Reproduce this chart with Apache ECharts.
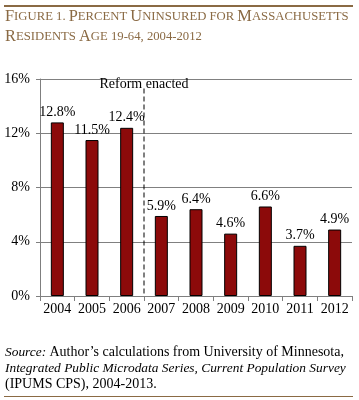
<!DOCTYPE html>
<html><head><meta charset="utf-8">
<script src="https://cdn.jsdelivr.net/npm/echarts@6/dist/echarts.min.js"></script>
<style>html,body{margin:0;padding:0;background:#fff}#c{width:359px;height:400px}</style>
</head><body><div id="c"></div>
<script>
var categories = ['2004','2005','2006','2007','2008','2009','2010','2011','2012'];
var uninsured = [12.8, 11.5, 12.4, 5.9, 6.4, 4.6, 6.6, 3.7, 4.9];
var yTicks = [0, 4, 8, 12, 16];
var reformPosition = 3; // boundary before 2007 (category index)
var reformLine = [[reformPosition, 15.3], [reformPosition, 0]];
var titleLines = ['Figure 1. Percent Uninsured for Massachusetts', 'Residents Age 19-64, 2004-2012'];

function smallCaps(s) {
  var out = '', cur = null, buf = '';
  for (var i = 0; i < s.length; i++) {
    var ch = s[i];
    var t = (ch >= 'A' && ch <= 'Z') ? 'b' : 's';
    if (t !== cur) { if (buf) out += '{' + cur + '|' + buf + '}'; buf = ''; cur = t; }
    buf += ch.toUpperCase();
  }
  if (buf) out += '{' + cur + '|' + buf + '}';
  return out;
}
var serif = '"Liberation Serif", "DejaVu Serif", serif';
var titleColor = '#8a6a44';
var titleRich = { b: { fontSize: 16.4, fill: titleColor, fontFamily: serif }, s: { fontSize: 12.7, fill: titleColor, fontFamily: serif } };
var chart = echarts.init(document.getElementById('c'));
chart.setOption({
  animation: false,
  backgroundColor: '#fff',
  grid: { left: 40, right: 7, top: 79, bottom: 104, containLabel: false },
  xAxis: [{
    type: 'category', data: categories,
    axisLine: { lineStyle: { color: '#7f7f7f' } },
    axisTick: { show: true, length: 5, inside: false, interval: 0, lineStyle: { color: '#7f7f7f' } },
    axisLabel: { color: '#000', fontFamily: serif, fontSize: 14, margin: 6, interval: 0, hideOverlap: false }
  }, {
    type: 'value', min: 0, max: 9, show: false
  }],
  yAxis: {
    type: 'value', min: 0, max: 16, interval: 4,
    axisLine: { show: true, lineStyle: { color: '#7f7f7f' } },
    axisTick: { show: true, length: 4, lineStyle: { color: '#7f7f7f' } },
    axisLabel: { color: '#000', fontFamily: serif, fontSize: 14, margin: 10,
      formatter: function (v) { return yTicks.indexOf(v) >= 0 ? v + '%' : ''; } },
    splitLine: { lineStyle: { color: '#808080', width: 1 } }
  },
  series: [{
    type: 'bar', data: uninsured, barWidth: 13, xAxisIndex: 0,
    itemStyle: { color: '#8c0a0a', borderColor: '#000', borderWidth: 1 },
    label: { show: true, position: 'top', distance: 3, color: '#000', fontFamily: serif, fontSize: 14,
      formatter: function (p) { return p.value.toFixed(1) + '%'; } }
  }, {
    type: 'line', xAxisIndex: 1, data: reformLine, symbol: 'circle', symbolSize: 0, showSymbol: true,
    itemStyle: { color: 'transparent' },
    lineStyle: { color: '#000', width: 1, type: [5, 3] },
    label: { show: true, position: 'top', distance: -3, color: '#000', fontFamily: serif, fontSize: 14,
      formatter: function (p) { return p.dataIndex === 0 ? 'Reform enacted' : ''; } }
  }],
  graphic: [
    { type: 'rect', shape: { x: 4, y: 5, width: 349, height: 2 }, style: { fill: '#8a6a44' } },
    { type: 'text', left: 5, top: 9, style: { text: smallCaps(titleLines[0]), fill: titleColor, fontFamily: serif, rich: titleRich } },
    { type: 'text', left: 5, top: 29, style: { text: smallCaps(titleLines[1]), fill: titleColor, fontFamily: serif, rich: titleRich } },
    { type: 'text', left: 5, top: 344, style: {
        text: '{i|Source:} {n|Author\u2019s calculations from University of Minnesota,}\n{i|Integrated Public Microdata Series, Current Population Survey}\n{n|(IPUMS CPS), 2004-2013.}',
        fill: '#000', lineHeight: 16,
        rich: { i: { fontStyle: 'italic', fontSize: 13.4, fontFamily: serif, lineHeight: 16 }, n: { fontSize: 14, fontFamily: serif, lineHeight: 16 } } } },
    { type: 'rect', shape: { x: 4, y: 396, width: 349, height: 1 }, style: { fill: '#8a6a44' } }
  ]
});
</script></body></html>
